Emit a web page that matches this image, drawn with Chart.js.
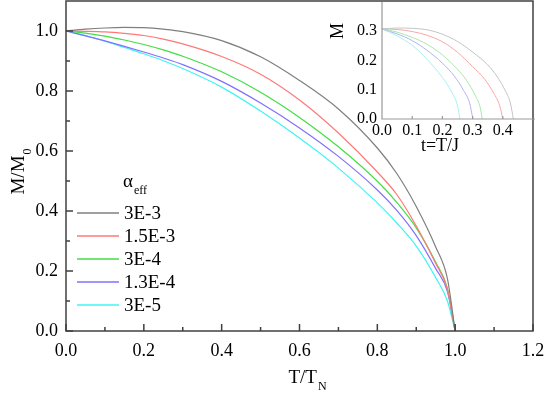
<!DOCTYPE html>
<html>
<head>
<meta charset="utf-8">
<script src="https://cdn.jsdelivr.net/npm/chart.js@4"></script>
<style>
    html, body { margin: 0; padding: 0; background: #fff; }
    #wrap { position: relative; width: 545px; height: 393px; overflow: hidden; }
    #mainChart { position: absolute; left: 0; top: 0; }
    #insetChart { position: absolute; left: 330px; top: 0; }
</style>
</head>
<body>
<div id="wrap">
    <canvas id="mainChart" width="545" height="393"></canvas>
    <canvas id="insetChart" width="215" height="160"></canvas>
</div>
<script>
// reduced temperature T/T_N
var tReduced = [0, 0.05, 0.1, 0.15, 0.2, 0.25, 0.3, 0.4, 0.5, 0.6, 0.7, 0.8, 0.85, 0.9, 0.95, 0.98, 1.0];

// M/M0 for each alpha_eff
var m3e3   = [1.000, 1.006, 1.010, 1.012, 1.011, 1.006, 0.998, 0.968, 0.914, 0.835, 0.740, 0.610, 0.525, 0.415, 0.280, 0.175, 0];
var m15e3  = [1.000, 0.999, 0.997, 0.992, 0.985, 0.973, 0.957, 0.915, 0.856, 0.770, 0.660, 0.530, 0.455, 0.350, 0.225, 0.140, 0];
var m3e4   = [1.000, 0.993, 0.983, 0.970, 0.955, 0.937, 0.916, 0.864, 0.796, 0.712, 0.614, 0.499, 0.429, 0.344, 0.229, 0.142, 0];
var m13e4  = [1.000, 0.984, 0.967, 0.949, 0.930, 0.910, 0.888, 0.832, 0.760, 0.677, 0.582, 0.470, 0.402, 0.318, 0.208, 0.132, 0];
var m3e5   = [1.000, 0.985, 0.966, 0.945, 0.924, 0.901, 0.875, 0.813, 0.733, 0.643, 0.543, 0.427, 0.360, 0.283, 0.178, 0.100, 0];

var legendLabels = ['3E-3', '1.5E-3', '3E-4', '1.3E-4', '3E-5'];

// inset: M vs t = T/J
var tInset3e3  = [0, 0.05, 0.1, 0.15, 0.2, 0.25, 0.3, 0.35, 0.38, 0.41, 0.425, 0.435];
var mInset3e3  = [0.308, 0.311, 0.310, 0.305, 0.290, 0.265, 0.229, 0.185, 0.147, 0.093, 0.055, 0];
var tInset15e3 = [0, 0.05, 0.1, 0.15, 0.2, 0.25, 0.3, 0.34, 0.37, 0.39, 0.40];
var mInset15e3 = [0.308, 0.306, 0.299, 0.286, 0.264, 0.228, 0.179, 0.136, 0.088, 0.045, 0];
var tInset3e4  = [0, 0.05, 0.1, 0.15, 0.2, 0.25, 0.28, 0.31, 0.325, 0.332];
var mInset3e4  = [0.308, 0.297, 0.279, 0.255, 0.219, 0.170, 0.132, 0.078, 0.040, 0];
var tInset13e4 = [0, 0.05, 0.1, 0.15, 0.2, 0.24, 0.27, 0.29, 0.301];
var mInset13e4 = [0.308, 0.291, 0.268, 0.234, 0.191, 0.146, 0.098, 0.055, 0];
var tInset3e5  = [0, 0.05, 0.1, 0.15, 0.2, 0.23, 0.25, 0.258];
var mInset3e5  = [0.308, 0.284, 0.252, 0.203, 0.142, 0.094, 0.045, 0];

// tick values
var xTicks = [0, 0.2, 0.4, 0.6, 0.8, 1.0, 1.2];
var xMinor = [0.1, 0.3, 0.5, 0.7, 0.9, 1.1];
var yTicks = [0, 0.2, 0.4, 0.6, 0.8, 1.0];
var yMinor = [0.1, 0.3, 0.5, 0.7, 0.9];
var insetXTicks = [0, 0.1, 0.2, 0.3, 0.4];
var insetYTicks = [0, 0.1, 0.2, 0.3];

var mainColors  = ['#7f7f7f', '#ff7878', '#44dd44', '#8070ff', '#40f4f4'];
var insetColors = ['#c4c4c4', '#f5a8a8', '#a8e8a8', '#b4b0f4', '#a8f0f0'];
var fontFam = '"Liberation Serif", serif';

function pairs(xs, ys) {
    return xs.map(function (x, i) { return { x: x, y: ys[i] }; });
}

function lineSet(label, xs, ys, color, width) {
    return {
        label: label,
        data: pairs(xs, ys),
        showLine: true,
        borderColor: color,
        backgroundColor: color,
        borderWidth: width,
        pointRadius: 0,
        cubicInterpolationMode: 'monotone'
    };
}

// text with a subscript part
function subText(ctx, main, sub, x, y, size, subSize, align) {
    ctx.font = size + 'px ' + fontFam;
    var w1 = ctx.measureText(main).width;
    ctx.font = subSize + 'px ' + fontFam;
    var w2 = ctx.measureText(sub).width;
    var start = align === 'center' ? x - (w1 + w2) / 2 : x;
    ctx.textAlign = 'left';
    ctx.textBaseline = 'alphabetic';
    ctx.font = size + 'px ' + fontFam;
    ctx.fillText(main, start, y);
    ctx.font = subSize + 'px ' + fontFam;
    ctx.fillText(sub, start + w1 + 1, y + size * 0.35);
}

var mainDecor = {
    id: 'mainDecor',
    afterDraw: function (chart) {
        var ctx = chart.ctx, a = chart.chartArea;
        var xs = chart.scales.x, ys = chart.scales.y;
        ctx.save();
        ctx.strokeStyle = '#404040';
        ctx.lineWidth = 1.5;
        ctx.strokeRect(a.left, a.top, a.right - a.left, a.bottom - a.top);
        ctx.beginPath();
        xTicks.forEach(function (v) { var p = xs.getPixelForValue(v); ctx.moveTo(p, a.bottom); ctx.lineTo(p, a.bottom - 7); });
        xMinor.forEach(function (v) { var p = xs.getPixelForValue(v); ctx.moveTo(p, a.bottom); ctx.lineTo(p, a.bottom - 4); });
        yTicks.forEach(function (v) { var p = ys.getPixelForValue(v); ctx.moveTo(a.left, p); ctx.lineTo(a.left + 7, p); });
        yMinor.forEach(function (v) { var p = ys.getPixelForValue(v); ctx.moveTo(a.left, p); ctx.lineTo(a.left + 4, p); });
        ctx.stroke();

        ctx.fillStyle = '#000';
        // axis titles
        subText(ctx, 'T/T', 'N', 307, 383, 19, 12, 'center');
        ctx.save();
        ctx.translate(24, 172);
        ctx.rotate(-Math.PI / 2);
        subText(ctx, 'M/M', '0', 0, 0, 19, 12, 'center');
        ctx.restore();

        // legend
        subText(ctx, '\u03b1', 'eff', 123, 187, 19, 12, 'left');
        chart.data.datasets.forEach(function (ds, i) {
            var y = 213 + i * 23;
            ctx.strokeStyle = ds.borderColor;
            ctx.lineWidth = 1.3;
            ctx.beginPath();
            ctx.moveTo(77, y);
            ctx.lineTo(119, y);
            ctx.stroke();
            ctx.fillStyle = '#000';
            ctx.font = '19px ' + fontFam;
            ctx.textAlign = 'left';
            ctx.textBaseline = 'middle';
            ctx.fillText(legendLabels[i], 124, y + 1);
        });
        ctx.restore();
    }
};

var insetDecor = {
    id: 'insetDecor',
    afterDraw: function (chart) {
        var ctx = chart.ctx, a = chart.chartArea;
        var xs = chart.scales.x;
        ctx.save();
        ctx.strokeStyle = '#999';
        ctx.lineWidth = 1.2;
        ctx.beginPath();
        ctx.moveTo(a.left, a.top);
        ctx.lineTo(a.left, a.bottom);
        ctx.lineTo(a.right + 2, a.bottom);
        insetXTicks.forEach(function (v) { var p = xs.getPixelForValue(v); ctx.moveTo(p, a.bottom); ctx.lineTo(p, a.bottom - 3); });
        ctx.stroke();
        ctx.fillStyle = '#000';
        ctx.font = '18px ' + fontFam;
        ctx.textAlign = 'center';
        ctx.textBaseline = 'alphabetic';
        ctx.fillText('t=T/J', 110, 151);
        ctx.save();
        ctx.translate(13, 31);
        ctx.rotate(-Math.PI / 2);
        ctx.fillText('M', 0, 0);
        ctx.restore();
        ctx.restore();
    }
};

function axisOpts(min, max, ticks, pad, size, fit) {
    return {
        min: min, max: max,
        afterBuildTicks: function (s) { s.ticks = ticks.map(function (v) { return { value: v }; }); },
        afterFit: fit,
        ticks: { color: '#000', padding: pad, maxRotation: 0, font: { family: fontFam, size: size },
                 callback: function (v) { return Number(v).toFixed(1); } },
        grid: { display: false, drawTicks: false },
        border: { display: false }
    };
}

var mainSeries = [m3e3, m15e3, m3e4, m13e4, m3e5];
var mainChart = new Chart(document.getElementById('mainChart').getContext('2d'), {
    type: 'scatter',
    data: {
        datasets: mainSeries.map(function (ys, i) {
            return lineSet(legendLabels[i], tReduced, ys, mainColors[i], 1.2);
        })
    },
    options: {
        responsive: false,
        animation: false,
        layout: { padding: { top: 1, right: 0, left: 0, bottom: 0 } },
        plugins: { legend: { display: false }, tooltip: { enabled: false } },
        scales: {
            x: axisOpts(0, 1.2, xTicks, 9, 18, function (s) { s.height = 62; s.paddingLeft = 0; s.paddingRight = 12; }),
            y: axisOpts(0, 1.1, yTicks, 8, 18, function (s) { s.width = 66; s.paddingTop = 0; s.paddingBottom = 0; })
        }
    },
    plugins: [mainDecor]
});

var insetT = [tInset3e3, tInset15e3, tInset3e4, tInset13e4, tInset3e5];
var insetM = [mInset3e3, mInset15e3, mInset3e4, mInset13e4, mInset3e5];
var insetChart = new Chart(document.getElementById('insetChart').getContext('2d'), {
    type: 'scatter',
    data: {
        datasets: insetT.map(function (ts, i) {
            return lineSet(legendLabels[i], ts, insetM[i], insetColors[i], 1);
        })
    },
    options: {
        responsive: false,
        animation: false,
        layout: { padding: { top: 2, right: 0, left: 0, bottom: 0 } },
        plugins: { legend: { display: false }, tooltip: { enabled: false } },
        scales: {
            x: axisOpts(0, 0.5, insetXTicks, 2, 16, function (s) { s.height = 41; s.paddingLeft = 0; s.paddingRight = 12; }),
            y: axisOpts(0, 0.4, insetYTicks, 5, 16, function (s) { s.width = 52; s.paddingTop = 0; s.paddingBottom = 0; })
        }
    },
    plugins: [insetDecor]
});
</script>
</body>
</html>
